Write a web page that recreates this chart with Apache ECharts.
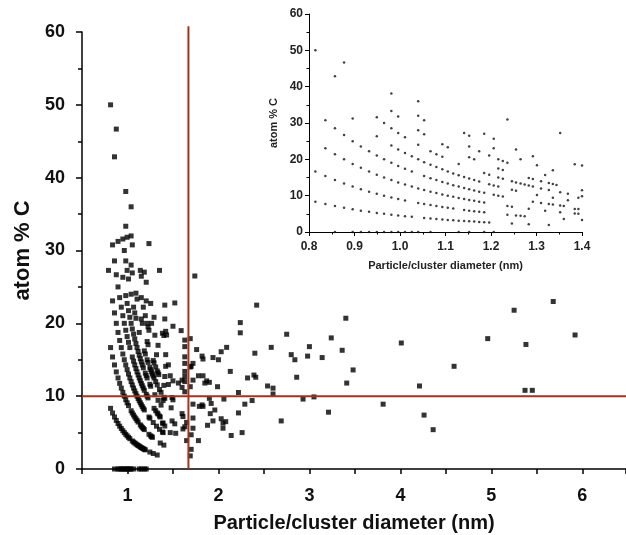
<!DOCTYPE html>
<html>
<head>
<meta charset="utf-8">
<script src="https://cdn.jsdelivr.net/npm/echarts@6/dist/echarts.min.js"></script>
<style>
  html, body { margin: 0; padding: 0; background: #fff; }
  #chart { width: 626px; height: 535px; }
</style>
</head>
<body>
<div id="chart"></div>
<script>
// points, [diameter nm, atom % C]
// small clusters, grouped by the curve they sit on (0, 1, 2 ... C atoms)
const row0 = [[0.857,0],[0.896,0],[0.914,0],[0.932,0],[0.949,0],[0.965,0],[0.981,0],[0.996,0],[1.011,0],[1.026,0],[1.040,0],[1.067,0],[1.129,0],[1.152,0],[1.185,0],[1.206,0]];
const row1 = [[0.814,8.33],[0.836,7.69],[0.857,7.14],[0.877,6.67],[0.896,6.25],[0.914,5.88],[0.932,5.56],[0.949,5.26],[0.965,5.00],[0.981,4.76],[0.996,4.55],[1.011,4.35],[1.026,4.17],[1.053,3.85],[1.067,3.70],[1.080,3.57],[1.093,3.45],[1.105,3.33],[1.117,3.23],[1.129,3.13],[1.141,3.03],[1.152,2.94],[1.163,2.86],[1.174,2.78],[1.185,2.70],[1.196,2.63],[1.246,2.33],[1.283,2.13],[1.327,1.92]];
const row2 = [[0.814,16.67],[0.836,15.38],[0.857,14.29],[0.877,13.33],[0.896,12.50],[0.914,11.76],[0.932,11.11],[0.949,10.53],[0.965,10.00],[0.981,9.52],[0.996,9.09],[1.011,8.70],[1.040,8.00],[1.053,7.69],[1.067,7.41],[1.080,7.14],[1.093,6.90],[1.105,6.67],[1.117,6.45],[1.141,6.06],[1.152,5.88],[1.163,5.71],[1.174,5.56],[1.185,5.41],[1.236,4.76],[1.255,4.55],[1.265,4.44],[1.274,4.35],[1.360,3.57],[1.400,3.28]];
const row3 = [[0.791,27.27],[0.836,23.08],[0.857,21.43],[0.877,20.00],[0.896,18.75],[0.914,17.65],[0.932,16.67],[0.949,15.79],[0.965,15.00],[0.981,14.29],[0.996,13.64],[1.011,13.04],[1.026,12.50],[1.040,12.00],[1.053,11.54],[1.067,11.11],[1.080,10.71],[1.093,10.34],[1.105,10.00],[1.117,9.68],[1.129,9.38],[1.141,9.09],[1.152,8.82],[1.163,8.57],[1.174,8.33],[1.185,8.11],[1.236,7.14],[1.246,6.98],[1.283,6.38],[1.319,5.88],[1.352,5.45],[1.384,5.08],[1.392,5.00]];
const row4 = [[0.836,30.77],[0.857,28.57],[0.877,26.67],[0.896,25.00],[0.914,23.53],[0.932,22.22],[0.949,21.05],[0.965,20.00],[0.981,19.05],[0.996,18.18],[1.011,17.39],[1.026,16.67],[1.053,15.38],[1.067,14.81],[1.080,14.29],[1.093,13.79],[1.105,13.33],[1.117,12.90],[1.129,12.50],[1.141,12.12],[1.152,11.76],[1.163,11.43],[1.174,11.11],[1.185,10.81],[1.206,10.26],[1.216,10.00],[1.226,9.76],[1.292,8.33],[1.310,8.00],[1.327,7.69],[1.336,7.55],[1.352,7.27],[1.360,7.14]];
const row5 = [[0.896,31.25],[0.949,26.32],[0.981,23.81],[0.996,22.73],[1.011,21.74],[1.026,20.83],[1.040,20.00],[1.053,19.23],[1.067,18.52],[1.080,17.86],[1.093,17.24],[1.105,16.67],[1.117,16.13],[1.129,15.63],[1.141,15.15],[1.152,14.71],[1.163,14.29],[1.174,13.89],[1.196,13.16],[1.206,12.82],[1.216,12.50],[1.246,11.63],[1.255,11.36],[1.301,10.20],[1.336,9.43],[1.369,8.77]];
const row6 = [[0.814,50.0],[0.857,42.86],[0.949,31.58],[0.965,30.0],[0.981,28.57],[0.996,27.27],[1.011,26.09],[1.040,24.0],[1.067,22.22],[1.080,21.43],[1.093,20.69],[1.129,18.75],[1.185,16.22],[1.196,15.79],[1.216,15.0],[1.226,14.63],[1.246,13.95],[1.255,13.64],[1.265,13.33],[1.274,13.04],[1.283,12.77],[1.292,12.5],[1.310,12.0],[1.327,11.54],[1.352,10.91],[1.369,10.53],[1.400,9.84]];
const row7 = [[0.877,46.67],[0.981,33.33],[0.996,31.82],[1.040,28.0],[1.053,26.92],[1.093,24.14],[1.105,23.33],[1.152,20.59],[1.163,20.0],[1.216,17.5],[1.226,17.07],[1.283,14.89],[1.292,14.58],[1.310,14.0],[1.327,13.46],[1.336,13.21],[1.344,12.96],[1.400,11.48]];
const row8 = [[0.981,38.1],[1.040,32.0],[1.053,30.77],[1.152,23.53],[1.174,22.22],[1.196,21.05],[1.216,20.0],[1.226,19.51],[1.236,19.05],[1.319,15.69]];
const row9 = [[1.040,36.0],[1.141,27.27],[1.152,26.47],[1.206,23.08],[1.265,20.0],[1.301,18.37],[1.336,16.98]];
const rowHigh = [[1.185,27.03],[1.206,25.64],[1.255,22.73],[1.292,20.83],[1.236,30.95],[1.352,27.27],[1.384,18.64],[1.400,18.33],[1.384,6.3],[1.392,6.3],[1.392,9.4]];

// larger particles (> 1.4 nm), main plot only
const largeParticles = [[1.41,22.5],[1.52,22.8],[1.41,20.6],[1.50,19.6],[1.59,19.0],[1.43,18.4],[1.42,18.9],[1.63,17.7],[1.69,17.9],[1.63,16.8],[1.76,16.4],[1.63,15.4],[1.82,15.5],[1.83,15.1],[1.42,15.7],[1.94,15.3],[2.00,15.0],[2.03,16.1],[2.09,16.7],[2.24,20.1],[2.24,18.7],[2.42,22.5],[2.40,15.9],[2.58,16.7],[2.75,18.5],[2.80,15.7],[2.84,15.0],[2.86,12.6],[2.98,15.5],[3.00,16.8],[2.93,9.6],[3.05,9.9],[2.13,13.4],[2.32,12.5],[2.39,12.9],[2.41,12.6],[2.54,11.4],[2.60,11.1],[2.60,10.3],[2.22,10.5],[2.06,9.6],[1.99,11.3],[2.29,8.9],[2.37,9.4],[2.22,7.7],[2.69,6.6],[2.14,4.6],[2.26,5.0],[2.05,6.3],[2.08,6.5],[2.03,6.9],[2.05,5.6],[1.94,6.6],[1.88,6.0],[1.91,7.6],[1.96,8.1],[1.92,9.0],[1.90,9.7],[1.82,8.8],[1.83,8.6],[1.79,8.6],[1.72,8.9],[1.72,7.0],[1.72,5.6],[1.90,11.9],[1.87,12.1],[1.85,11.8],[1.83,12.8],[1.78,12.8],[1.72,12.2],[1.72,14.5],[1.69,14.0],[1.70,14.1],[1.69,11.3],[1.63,14.5],[1.63,13.4],[1.63,12.7],[1.63,12.0],[1.63,10.6],[1.60,12.2],[1.56,11.8],[1.50,12.1],[1.47,12.8],[1.41,12.7],[1.45,14.3],[1.45,11.6],[1.42,14.1],[1.60,11.2],[1.60,7.6],[1.61,7.2],[1.49,6.6],[1.52,6.2],[1.53,4.9],[1.47,5.0],[1.41,5.9],[1.65,6.4],[1.63,5.8],[1.61,5.5],[1.70,4.7],[1.78,3.9],[1.65,3.9],[1.70,2.7],[1.69,1.8],[1.48,8.4],[1.41,9.7],[1.49,9.8],[1.50,9.5],[1.74,26.5],
  [3.14,15.3],[3.21,7.8],[3.24,18.0],[3.36,16.3],[3.40,20.7],[3.41,11.8],[3.48,13.6],[3.81,8.9],[4.01,17.3],[4.21,11.4],[4.26,7.4],[4.36,5.4],[4.59,14.1],[4.96,17.9],[5.25,21.8],[5.38,17.1],[5.37,10.8],[5.45,10.8],[5.68,23.0],[5.92,18.4]];

// the two reference lines
const cutDiameter = 1.67;
const cutCarbon = 10;

const smallClusters = [].concat(row0, row1, row2, row3, row4, row5, row6, row7, row8, row9, rowHigh);
const allPoints = smallClusters.concat(largeParticles);
const insetPoints = smallClusters.filter(p => p[0] >= 0.8 && p[0] <= 1.4);

const font = '"Liberation Sans", Arial, sans-serif';
const red = '#a3331d';
const xMax = 6.48;

const chart = echarts.init(document.getElementById('chart'));

const axisStyle = (w) => ({ lineStyle: { color: '#000', width: w } });

chart.setOption({
  animation: false,
  grid: [
    { left: 82, top: 32, width: 544, height: 437, outerBoundsMode: 'none' },
    { left: 309, top: 14, width: 273, height: 218, outerBoundsMode: 'none' }
  ],
  xAxis: [
    {
      gridIndex: 0, type: 'value', min: 0.5, max: xMax, interval: 0.5,
      axisLine: Object.assign({ onZero: false }, axisStyle(1.5)),
      axisTick: Object.assign({ length: 5 }, axisStyle(1.5)),
      axisLabel: {
        margin: 18, fontSize: 18, fontWeight: 'bold', color: '#111', fontFamily: font,
        formatter: v => Math.abs(v - Math.round(v)) < 1e-6 ? String(Math.round(v)) : ''
      },
      splitLine: { show: false },
      name: 'Particle/cluster diameter (nm)', nameLocation: 'middle', nameGap: 44,
      nameTextStyle: { fontSize: 20, fontWeight: 'bold', color: '#111', fontFamily: font }
    },
    {
      gridIndex: 1, type: 'value', min: 0.8, max: 1.4, interval: 0.1,
      axisLine: Object.assign({ onZero: false }, axisStyle(1)),
      axisTick: Object.assign({ length: 4 }, axisStyle(1)),
      minorTick: Object.assign({ show: true, splitNumber: 2, length: 2.5 }, axisStyle(1)),
      axisLabel: { margin: 9, fontSize: 12, fontWeight: 'bold', color: '#222', fontFamily: font, formatter: v => v.toFixed(1) },
      splitLine: { show: false },
      name: 'Particle/cluster diameter (nm)', nameLocation: 'middle', nameGap: 28,
      nameTextStyle: { fontSize: 11, fontWeight: 'bold', color: '#222', fontFamily: font }
    }
  ],
  yAxis: [
    {
      gridIndex: 0, type: 'value', min: 0, max: 60, interval: 10,
      axisLine: Object.assign({ show: true }, axisStyle(1.5)),
      axisTick: Object.assign({ show: true, length: 6 }, axisStyle(1.5)),
      minorTick: Object.assign({ show: true, splitNumber: 2, length: 4 }, axisStyle(1.5)),
      axisLabel: { margin: 17, fontSize: 18, fontWeight: 'bold', color: '#111', fontFamily: font },
      splitLine: { show: false },
      name: 'atom % C', nameLocation: 'middle', nameGap: 48,
      nameTextStyle: { fontSize: 22, fontWeight: 'bold', color: '#111', fontFamily: font }
    },
    {
      gridIndex: 1, type: 'value', min: 0, max: 60, interval: 10,
      axisLine: Object.assign({ show: true }, axisStyle(1)),
      axisTick: Object.assign({ show: true, length: 4 }, axisStyle(1)),
      minorTick: Object.assign({ show: true, splitNumber: 2, length: 2.5 }, axisStyle(1)),
      axisLabel: { margin: 6, fontSize: 12, fontWeight: 'bold', color: '#222', fontFamily: font },
      splitLine: { show: false },
      name: 'atom % C', nameLocation: 'middle', nameGap: 30,
      nameTextStyle: { fontSize: 11, fontWeight: 'bold', color: '#222', fontFamily: font }
    }
  ],
  series: [
    {
      type: 'scatter', xAxisIndex: 0, yAxisIndex: 0, data: allPoints,
      symbol: 'rect', symbolSize: 5, itemStyle: { color: '#000' }, silent: true
    },
    {
      type: 'line', xAxisIndex: 0, yAxisIndex: 0, clip: false, silent: true,
      data: [[cutDiameter, 0], [cutDiameter, 60.8]],
      showSymbol: false, lineStyle: { color: red, width: 2 }, z: 5
    },
    {
      type: 'line', xAxisIndex: 0, yAxisIndex: 0, clip: false, silent: true,
      data: [[0.5, cutCarbon], [xMax, cutCarbon]],
      showSymbol: false, lineStyle: { color: red, width: 2 }, z: 5
    },
    {
      type: 'scatter', xAxisIndex: 1, yAxisIndex: 1, data: insetPoints,
      symbol: 'circle', symbolSize: 2.5, itemStyle: { color: '#111' }, silent: true
    }
  ]
});
</script>
</body>
</html>
